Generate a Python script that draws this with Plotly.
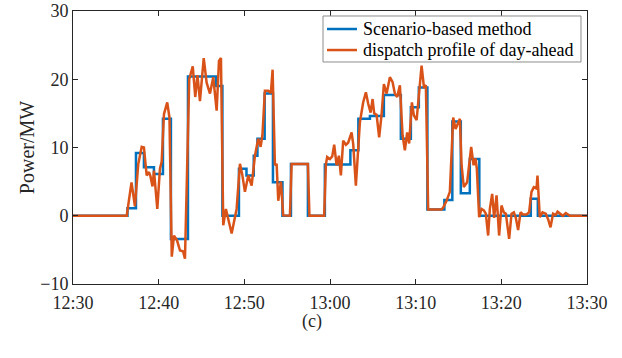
import plotly.graph_objects as go

# time in minutes after 12:30
blue_t = [0, 6.36, 7.35, 8.28, 9.45, 10.5, 11.43, 13.42, 16.69, 17.44, 19.37, 20.25, 21.1, 21.53,
          22.37, 23.34, 24.45, 25.44, 27.42, 29.4, 32.38, 33.31, 34.66, 36.29, 38.27, 39.44, 40.37,
          41.37, 43.35, 44.28, 45.27, 46.32, 47.43, 53.44, 54.26, 60]
blue_v = [0, 1.1, 9.2, 7.1, 6.1, 14.2, -3.4, 20.4, 19.0, 0, 6.9, 5.9, 8.8, 11.3,
          17.9, 4.9, 0, 7.6, 0, 7.5, 9.6, 14.2, 14.6, 17.7, 11.3, 15.9, 18.8,
          0.9, 2.3, 13.8, 3.3, 8.3, 0, 2.5, 0, 0]

orange_t = [0, 6.27, 6.83, 7.23, 7.62, 8.02, 8.28, 8.60, 8.87, 9.04, 9.28, 9.45, 9.84, 10.15, 10.35,
            10.62, 11.00, 11.26, 11.53, 11.79, 12.14, 12.49, 12.84, 13.07, 13.57, 13.98, 14.27, 14.53,
            14.82, 15.26, 15.60, 15.99, 16.37, 16.77, 17.04, 17.27, 17.54, 17.85, 18.52, 19.10, 19.49,
            19.75, 20.07, 20.46, 20.85, 21.24, 21.62, 21.90, 22.11, 22.40, 22.79, 23.10, 23.30, 23.57,
            23.77, 23.96, 24.27, 24.54, 25.32, 25.52, 27.42, 27.60, 29.32, 29.52, 29.67, 29.99, 30.26,
            30.49, 30.77, 31.04, 31.27, 31.54, 31.86, 32.12, 32.52, 32.71, 33.02, 33.49, 33.87, 34.19,
            34.46, 34.74, 34.97, 35.16, 35.44, 35.74, 36.02, 36.29, 36.61, 36.99, 37.30, 37.57, 37.84,
            38.16, 38.47, 38.74, 39.01, 39.24, 39.56, 39.79, 40.11, 40.29, 40.69, 40.96, 41.19, 41.46,
            43.02, 43.21, 43.61, 43.99, 44.38, 44.66, 44.89, 45.16, 45.36, 45.62, 46.01, 46.48, 46.76,
            46.99, 47.14, 47.41, 47.69, 47.96, 48.19, 48.46, 48.66, 48.93, 49.16, 49.44, 49.74, 50.02,
            50.29, 50.53, 50.91, 51.19, 51.46, 51.69, 51.96, 52.24, 52.54, 52.94, 53.24, 53.52, 53.79,
            54.11, 54.22, 54.49, 54.81, 55.19, 55.46, 55.74, 56.04, 56.33, 56.56, 56.83, 57.18, 57.53,
            57.99, 60]
orange_v = [0, 0, 4.9, 1.4, 7.6, 10.1, 10.0, 5.9, 6.4, 5.8, 4.3, 6.6, 1.0, 6.9, 7.9,
            14.9, 16.6, 14.4, -6.0, -2.9, -3.6, -5.1, -5.2, -6.3, 20.0, 21.9, 17.4, 20.6,
            16.8, 23.1, 19.5, 17.9, 20.3, 15.4, 22.7, 23.1, -1.4, 1.0, -2.6, 1.0, 7.6,
            6.1, 3.5, 5.9, 4.4, 8.8, 11.3, 10.1, 11.8, 18.3, 18.3, 18.0, 21.4, 7.4,
            7.6, 2.2, 5.0, 0.05, 0, 7.6, 7.6, 0, 0, 7.5, 8.6, 8.3, 8.7,
            10.4, 7.4, 8.8, 5.9, 11.0, 10.4, 10.7, 12.2, 10.5, 4.4, 13.7, 16.6, 18.1,
            16.4, 15.1, 17.1, 15.0, 14.8, 11.5, 14.8, 19.3, 17.9, 20.3, 19.6, 17.9, 17.4,
            19.1, 11.8, 9.6, 12.2, 10.6, 16.6, 14.7, 14.0, 16.2, 22.0, 18.9, 19.1, 0.9,
            0.9, 1.2, 2.2, 3.5, 14.4, 12.7, 13.5, 14.2, 7.4, 4.2, 4.9, 10.1, 7.4,
            8.4, 6.9, -0.2, 1.0, 0.8, 0.3, -2.9, 1.0, 3.2, -0.3, 3.0, -2.9, 1.5,
            0.5, 0.3, -3.4, 0.3, 0.5, -0.3, -2.1, 0.5, 0.2, 0.2, 0.5, 3.5, 4.2,
            4.0, 5.9, -0.2, 0.5, 0.3, -0.5, -1.7, 0.3, 0.1, 0.6, 0.3, 0, 0.4,
            0, 0]

series_names = ["Scenario-based method", "dispatch profile of day-ahead"]
series_colors = ["#0072BD", "#D95319"]

x_tickvals = [0, 10, 20, 30, 40, 50, 60]
x_ticktext = ["12:30", "12:40", "12:50", "13:00", "13:10", "13:20", "13:30"]
y_tickvals = [-10, 0, 10, 20, 30]

FONT = "Liberation Serif"
AX = "#262626"

fig = go.Figure()
fig.add_trace(go.Scatter(x=blue_t, y=blue_v, mode="lines", line_shape="hv",
                         name=series_names[0], showlegend=False,
                         line=dict(color=series_colors[0], width=2.5)))
fig.add_trace(go.Scatter(x=orange_t, y=orange_v, mode="lines",
                         name=series_names[1], showlegend=False,
                         line=dict(color=series_colors[1], width=2.5)))

# compact legend box (paper coordinates)
shapes = [dict(type="rect", xref="paper", yref="paper", x0=0.4864, x1=0.9883, y0=0.8132, y1=0.9817,
               line=dict(color="#8c8c8c", width=1), fillcolor="white", layer="above")]
annotations = []
row_y = [0.934, 0.857]
for name, col, yy in zip(series_names, series_colors, row_y):
    shapes.append(dict(type="line", xref="paper", yref="paper", x0=0.4942, x1=0.5525, y0=yy, y1=yy,
                       line=dict(color=col, width=2.5), layer="above"))
    annotations.append(dict(text=name, x=0.5603, y=yy, xref="paper", yref="paper", showarrow=False,
                            xanchor="left", yanchor="middle",
                            font=dict(family=FONT, size=18, color="black")))
annotations.append(dict(text="(c)", x=0.465, y=-0.138, xref="paper", yref="paper",
                        showarrow=False, xanchor="center", yanchor="middle",
                        font=dict(family=FONT, size=18, color=AX)))

fig.update_layout(
    width=622, height=358,
    margin=dict(l=73, r=35, t=11, b=74, autoexpand=False),
    paper_bgcolor="white", plot_bgcolor="white",
    font=dict(family=FONT, size=18, color=AX),
    showlegend=False,
    xaxis=dict(range=[0, 60], tickvals=x_tickvals, ticktext=x_ticktext, automargin=False,
               showgrid=False, zeroline=False, showline=True, linecolor=AX, linewidth=1,
               mirror="ticks", ticks="inside", ticklen=5, tickcolor=AX, ticklabelstandoff=2,
               tickfont=dict(family=FONT, size=18, color=AX)),
    yaxis=dict(range=[-10, 30], tickvals=y_tickvals, automargin=False,
               showgrid=False, zeroline=False, showline=True, linecolor=AX, linewidth=1,
               mirror="ticks", ticks="inside", ticklen=5, tickcolor=AX,
               tickfont=dict(family=FONT, size=18, color=AX),
               title=dict(text="Power/MW", font=dict(family=FONT, size=20, color=AX), standoff=0)),
    shapes=shapes,
    annotations=annotations,
)

fig.write_html("out.html")
